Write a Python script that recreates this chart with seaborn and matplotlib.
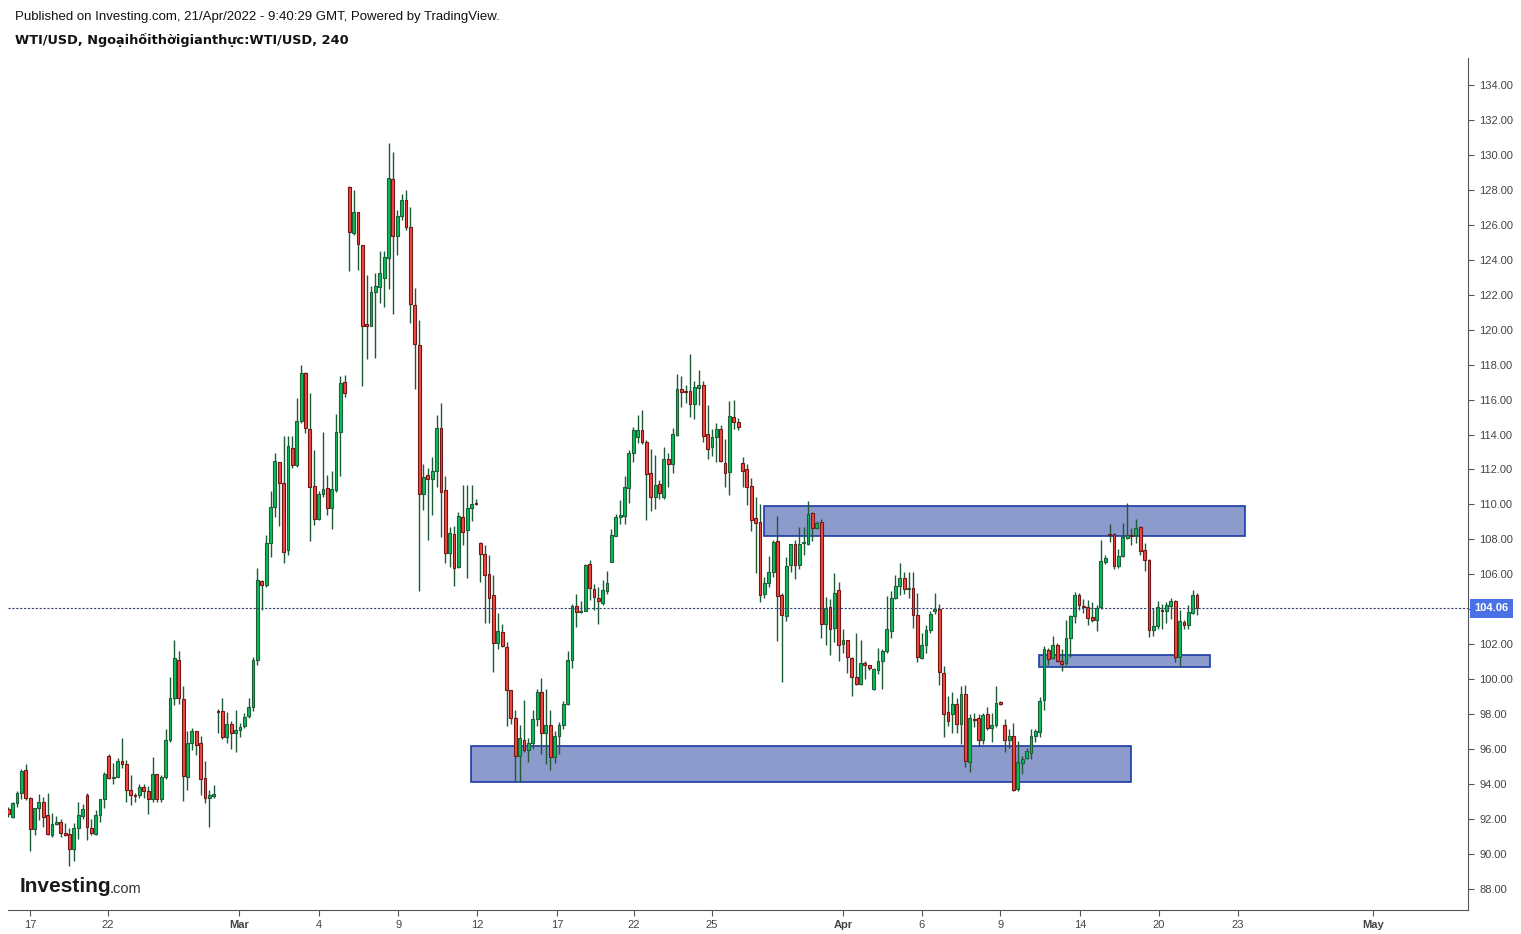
import matplotlib
matplotlib.use("Agg")
import matplotlib.pyplot as plt
import matplotlib.transforms as mtransforms
from matplotlib.patches import Rectangle
import numpy as np
import pandas as pd
import seaborn as sns

# ---------------- data (4-hour WTI/USD candles) ----------------
opens = [92.60, 92.12, 92.92, 93.49, 94.81, 93.20, 91.46, 92.64, 93.00, 92.24,
         91.10, 91.70, 91.83, 91.20, 91.14, 90.31, 91.48, 92.20, 93.38, 91.50,
         91.17, 92.24, 93.14, 95.60, 94.34, 94.40, 95.30, 95.14, 93.65, 93.40,
         93.36, 93.84, 93.60, 93.17, 94.57, 93.15, 94.40, 96.51, 98.91, 101.09,
         98.86, 94.43, 96.34, 97.03, 96.34, 94.34, 93.20, 93.30, 98.20, 98.19,
         96.69, 97.43, 96.92, 97.09, 97.30, 97.88, 98.40, 101.09, 105.60, 105.40,
         107.80, 109.83, 112.41, 111.20, 107.40, 113.22, 112.27, 114.79, 117.52, 114.32,
         111.04, 109.14, 110.57, 110.93, 109.77, 110.83, 114.17, 117.01, 128.14, 125.55,
         126.72, 124.83, 120.30, 120.23, 122.14, 122.46, 122.97, 124.10, 128.60, 125.38,
         126.50, 127.42, 125.89, 121.39, 119.11, 110.58, 111.67, 111.44, 111.90, 114.36,
         110.83, 107.23, 108.30, 106.41, 109.27, 108.54, 109.78, 110.07, 107.80, 107.14,
         106.00, 104.80, 102.06, 102.70, 101.83, 99.37, 97.77, 95.61, 96.51, 95.94,
         96.34, 97.72, 99.27, 96.92, 97.40, 95.54, 96.74, 97.36, 98.57, 101.09,
         104.18, 103.84, 103.92, 106.58, 105.15, 104.63, 104.39, 105.07, 106.73, 108.21,
         109.26, 109.34, 110.96, 112.93, 113.88, 114.27, 113.58, 111.78, 110.45, 111.16,
         110.45, 112.60, 112.31, 113.98, 116.59, 116.50, 116.49, 115.77, 116.65, 116.82,
         114.02, 113.27, 113.88, 114.30, 112.36, 111.88, 114.99, 114.72, 112.36, 112.05,
         111.04, 109.21, 108.98, 104.87, 105.50, 106.12, 107.90, 104.81, 103.61, 106.52,
         107.72, 106.52, 107.78, 107.72, 109.50, 108.64, 108.98, 103.14, 104.12, 102.92,
         105.09, 102.00, 102.23, 101.20, 100.12, 99.71, 100.91, 100.80, 99.43, 100.52,
         101.03, 101.60, 102.75, 104.63, 105.32, 105.78, 105.15, 105.21, 103.67, 101.20,
         101.95, 102.80, 103.90, 104.00, 100.34, 98.11, 98.00, 98.57, 97.43, 99.14,
         95.25, 97.72, 97.77, 96.51, 98.00, 97.20, 97.38, 98.68, 97.37, 96.51,
         96.74, 93.71, 95.20, 95.48, 95.80, 96.74, 96.97, 98.80, 101.66, 101.20,
         101.95, 101.03, 100.91, 102.35, 103.60, 104.81, 104.18, 104.12, 103.55, 103.38,
         104.12, 106.69, 108.30, 108.30, 106.50, 107.04, 108.08, 108.21, 108.25, 108.70,
         107.38, 106.81, 102.80, 103.03, 103.95, 103.90, 104.18, 104.46, 101.26, 103.26,
         103.09, 103.78, 104.81]
highs = [92.70, 92.95, 93.62, 94.87, 95.16, 93.25, 92.64, 93.44, 93.27, 93.50,
         92.33, 92.20, 92.00, 91.80, 91.50, 91.80, 92.97, 92.87, 93.50, 92.00,
         92.50, 93.14, 94.70, 95.70, 95.23, 95.50, 96.64, 95.40, 94.50, 93.50,
         94.00, 94.00, 93.90, 95.56, 94.60, 94.53, 97.16, 100.12, 102.25, 101.62,
         99.62, 97.04, 97.20, 97.05, 96.76, 95.33, 93.67, 93.95, 98.30, 98.91,
         98.10, 97.62, 98.25, 97.50, 98.06, 98.90, 101.26, 106.37, 105.65, 108.26,
         110.77, 112.92, 112.45, 113.94, 113.94, 113.94, 116.10, 117.96, 117.55, 116.37,
         113.12, 110.77, 114.15, 111.68, 111.89, 115.17, 117.37, 117.39, 128.20, 128.00,
         126.75, 124.85, 123.13, 122.52, 123.23, 124.50, 124.50, 130.70, 130.17, 126.85,
         127.77, 128.00, 127.00, 122.41, 120.56, 112.32, 112.10, 112.70, 115.10, 115.80,
         111.63, 108.73, 108.77, 109.57, 111.10, 111.10, 111.10, 110.30, 107.84, 107.68,
         107.11, 105.94, 103.77, 103.15, 102.12, 99.40, 98.25, 97.39, 98.82, 96.64,
         98.25, 99.44, 100.07, 99.44, 98.25, 97.04, 97.55, 98.77, 101.60, 104.31,
         104.86, 104.46, 106.60, 106.83, 105.44, 105.26, 105.69, 106.20, 108.57, 109.46,
         110.26, 111.63, 113.12, 114.45, 115.12, 115.40, 113.70, 113.18, 112.83, 111.39,
         113.27, 112.96, 114.36, 117.47, 117.37, 116.84, 118.61, 117.06, 117.70, 117.06,
         115.70, 114.30, 114.65, 114.53, 113.73, 115.92, 115.99, 114.95, 112.70, 112.32,
         111.50, 110.41, 110.01, 105.84, 107.04, 107.96, 109.33, 104.93, 106.97, 107.75,
         107.96, 108.70, 108.70, 110.18, 109.56, 109.04, 109.16, 104.69, 104.57, 106.06,
         105.55, 102.86, 102.25, 101.26, 102.63, 102.25, 101.03, 100.82, 100.63, 101.77,
         101.72, 104.75, 105.04, 105.95, 106.64, 106.15, 106.14, 106.11, 104.92, 102.63,
         103.09, 103.90, 104.92, 104.29, 100.74, 99.03, 99.26, 98.94, 99.60, 99.66,
         98.00, 98.06, 98.00, 98.06, 98.40, 98.06, 99.60, 98.77, 97.72, 97.14,
         97.49, 96.46, 95.60, 96.06, 97.14, 97.14, 98.97, 101.89, 101.78, 102.46,
         102.06, 101.72, 103.38, 103.67, 104.98, 104.92, 104.58, 104.52, 104.40, 104.23,
         107.96, 107.09, 108.86, 108.35, 107.44, 108.94, 110.10, 108.68, 109.16, 108.76,
         107.79, 106.86, 104.06, 104.46, 104.29, 104.40, 104.63, 104.52, 103.95, 103.38,
         104.23, 105.10, 104.92]
lows = [92.10, 92.05, 92.72, 93.16, 93.10, 90.20, 91.10, 91.97, 91.55, 91.10,
        91.00, 91.65, 91.00, 91.05, 89.34, 89.60, 90.87, 92.00, 90.80, 91.10,
        91.10, 91.86, 92.66, 94.30, 94.00, 94.38, 94.90, 92.95, 92.80, 93.00,
        93.20, 93.20, 92.30, 92.95, 92.95, 93.00, 94.30, 96.40, 98.53, 98.57,
        93.04, 93.67, 95.96, 95.69, 93.38, 92.90, 91.57, 93.23, 96.95, 96.57,
        96.38, 96.03, 95.86, 96.70, 97.20, 97.80, 98.20, 100.84, 103.97, 105.30,
        107.02, 109.30, 108.78, 106.66, 107.10, 112.06, 112.16, 114.68, 114.07, 107.93,
        108.82, 109.10, 110.41, 109.39, 108.60, 110.72, 111.63, 116.12, 123.38, 125.40,
        123.42, 116.80, 118.33, 120.20, 118.40, 121.54, 121.30, 122.31, 120.92, 124.28,
        126.28, 125.70, 120.37, 116.63, 105.03, 109.69, 107.97, 109.40, 111.00, 108.16,
        106.67, 106.44, 105.35, 106.36, 107.69, 105.78, 109.08, 109.99, 105.59, 103.20,
        103.20, 100.43, 101.72, 101.85, 97.32, 97.43, 94.13, 94.13, 95.83, 95.25,
        96.00, 97.30, 95.71, 95.14, 94.80, 95.20, 95.71, 97.14, 98.50, 100.63,
        102.97, 103.80, 103.90, 104.52, 103.95, 103.15, 104.22, 104.88, 106.70, 108.20,
        108.90, 108.90, 110.10, 112.45, 113.54, 113.47, 109.12, 109.65, 109.74, 110.30,
        110.30, 111.00, 111.79, 113.94, 115.60, 115.80, 115.03, 114.91, 115.70, 113.55,
        112.59, 112.76, 112.45, 112.42, 111.02, 110.55, 114.30, 114.28, 111.02, 109.97,
        108.50, 106.10, 104.44, 104.64, 105.26, 105.84, 102.17, 99.86, 103.32, 106.12,
        105.72, 106.29, 107.10, 107.70, 107.90, 108.60, 102.35, 101.94, 101.41, 102.12,
        101.06, 101.52, 100.38, 99.03, 99.65, 99.70, 100.04, 100.52, 99.37, 100.29,
        99.43, 101.49, 102.35, 104.57, 104.84, 104.86, 104.63, 102.92, 100.97, 101.15,
        101.49, 102.63, 103.72, 99.65, 96.72, 97.35, 96.92, 96.92, 96.28, 94.99,
        94.68, 97.26, 96.17, 96.28, 97.10, 96.43, 97.26, 98.54, 95.86, 96.06,
        93.60, 93.59, 94.60, 95.43, 95.43, 96.40, 96.68, 98.23, 100.80, 101.18,
        100.97, 100.46, 100.80, 101.26, 103.21, 103.95, 103.78, 103.09, 103.26, 102.75,
        104.00, 106.58, 107.84, 106.33, 106.38, 106.98, 108.02, 107.70, 107.79, 107.10,
        106.20, 102.40, 102.46, 102.86, 102.86, 103.20, 103.43, 100.97, 100.69, 102.86,
        102.86, 103.72, 103.67]
closes = [92.30, 92.92, 93.49, 94.76, 93.18, 91.46, 92.64, 92.97, 92.14, 91.17,
          91.70, 91.83, 91.20, 91.10, 90.31, 91.48, 92.24, 92.60, 91.52, 91.20,
          92.24, 93.14, 94.57, 94.34, 94.41, 95.33, 95.18, 93.65, 93.36, 93.30,
          93.84, 93.60, 93.17, 94.57, 93.17, 94.40, 96.51, 98.91, 101.20, 98.95,
          94.49, 96.34, 97.03, 96.26, 94.32, 93.20, 93.38, 93.44, 98.12, 96.72,
          97.43, 96.92, 97.09, 97.26, 97.83, 98.40, 101.09, 105.68, 105.40, 107.81,
          109.83, 112.46, 111.25, 107.27, 113.33, 112.23, 114.80, 117.52, 114.37, 111.00,
          109.14, 110.57, 110.87, 109.77, 110.90, 114.15, 116.92, 116.40, 125.60, 126.72,
          124.89, 120.23, 120.23, 122.14, 122.50, 123.23, 124.16, 128.66, 125.38, 126.51,
          127.42, 125.89, 121.45, 119.17, 110.58, 111.59, 111.44, 111.90, 114.36, 110.73,
          107.23, 108.35, 106.36, 109.34, 108.45, 109.78, 110.00, 110.00, 107.14, 105.94,
          104.67, 102.06, 102.75, 101.90, 99.37, 97.77, 95.61, 96.62, 95.94, 96.34,
          97.72, 99.27, 96.92, 97.40, 95.54, 96.74, 97.36, 98.57, 101.09, 104.18,
          103.84, 103.92, 106.54, 105.23, 104.69, 104.46, 105.12, 105.51, 108.28, 109.26,
          109.39, 111.00, 112.93, 114.27, 114.27, 113.60, 111.76, 110.45, 111.10, 110.64,
          112.60, 112.34, 114.02, 116.59, 116.45, 116.45, 115.77, 116.70, 116.82, 113.94,
          113.16, 113.84, 114.30, 112.47, 111.82, 115.06, 114.70, 114.42, 111.94, 111.00,
          109.10, 108.96, 104.81, 105.50, 106.12, 107.84, 104.75, 103.67, 106.47, 107.72,
          106.52, 107.72, 107.84, 109.44, 108.64, 108.93, 103.14, 104.06, 102.86, 104.92,
          101.95, 102.23, 101.26, 100.12, 99.75, 100.91, 100.80, 100.63, 100.57, 101.03,
          101.60, 102.86, 104.63, 105.32, 105.78, 105.15, 105.21, 103.67, 101.26, 101.95,
          102.80, 103.72, 104.00, 100.40, 98.00, 97.60, 98.57, 97.43, 99.14, 95.31,
          97.77, 97.68, 96.51, 97.94, 97.20, 97.38, 98.63, 98.60, 96.51, 96.74,
          93.65, 95.25, 95.43, 95.88, 96.74, 97.03, 98.74, 101.72, 101.15, 101.95,
          101.03, 100.86, 102.35, 103.60, 104.81, 104.23, 104.12, 103.49, 103.38, 104.06,
          106.75, 106.92, 108.27, 106.50, 107.04, 108.13, 108.25, 108.17, 108.64, 107.33,
          106.81, 102.80, 103.03, 104.12, 103.90, 104.23, 104.46, 101.26, 103.32, 103.09,
          103.84, 104.81, 104.06]

# date labels on the bar-index axis (6 four-hour bars per trading day)
tick_labels = ["17", "22", "Mar", "4", "9", "12", "17", "22", "25",
               "Apr", "6", "9", "14", "20", "23", "May"]
tick_bars = [5.0, 22.8, 52.8, 71.1, 89.2, 107.3, 125.5, 143.2, 161.0,
             191.0, 209.0, 227.0, 245.2, 263.3, 281.4, 312.3]

# support / resistance zones: (first bar, last bar, low price, high price)
zone_start = [172.9, 105.9, 235.9]
zone_end = [283.0, 256.9, 275.0]
zone_low = [108.20, 94.13, 100.70]
zone_high = [109.92, 96.19, 101.39]

last_price = 104.06

# ---------------- styling ----------------
sns.set_theme(style="white")
plt.rcParams["font.family"] = ["Liberation Sans", "DejaVu Sans"]

df = pd.DataFrame({"open": opens, "high": highs, "low": lows, "close": closes})
df["bar"] = np.arange(len(df))
df["up"] = df["close"] >= df["open"]

UP_FILL, UP_EDGE = "#0BBD5E", "#1C5E36"
DN_FILL, DN_EDGE = "#F3493F", "#741616"
WICK = "#1D5B36"

fig = plt.figure(figsize=(15.21, 9.34), dpi=100)
ax = fig.add_axes([8 / 1521, 24 / 934, 1460 / 1521, 852 / 934])

# zones (behind candles)
for s, e, lo, hi in zip(zone_start, zone_end, zone_low, zone_high):
    ax.add_patch(Rectangle((s, lo), e - s, hi - lo, facecolor="#8C9ACC",
                           edgecolor="#1C3CA6", linewidth=1.2, zorder=1))

# wicks
ax.vlines(df["bar"], df["low"], df["high"], color=WICK, linewidth=1.0, zorder=2)

# bodies
body_bottom = np.minimum(df["open"], df["close"])
body_height = np.maximum((df["close"] - df["open"]).abs(), 0.06)
ax.bar(df["bar"], body_height, bottom=body_bottom, width=0.64,
       color=np.where(df["up"], UP_FILL, DN_FILL),
       edgecolor=np.where(df["up"], UP_EDGE, DN_EDGE),
       linewidth=0.8, zorder=3)

# last price line
ax.axhline(last_price, color="#34406E", linewidth=0.8, linestyle=(0, (2, 1.5)), zorder=4)

# axes
ax.set_xlim(-0.07, 334.0)
ax.set_ylim(86.8, 135.54)
ax.set_xticks(tick_bars)
ax.set_xticklabels(tick_labels)
for lab in ax.get_xticklabels():
    if lab.get_text() in ("Mar", "Apr", "May"):
        lab.set_fontweight("bold")
yt = np.arange(88, 135, 2)
ax.set_yticks(yt)
# the 104.00 label sits under the last-price badge, so it is not shown
ax.set_yticklabels(["" if v == 104 else f"{v:.2f}" for v in yt])
ax.yaxis.tick_right()
ax.tick_params(axis="y", which="both", right=True, left=False, length=4,
               width=0.8, color="#555555", labelsize=8, labelcolor="#444444", pad=4)
ax.tick_params(axis="x", bottom=True, length=4, width=0.8, color="#555555",
               labelsize=8, labelcolor="#444444", pad=3)
for side in ("top", "left"):
    ax.spines[side].set_visible(False)
for side in ("right", "bottom"):
    ax.spines[side].set_visible(True)
    ax.spines[side].set_color("#555555")
    ax.spines[side].set_linewidth(0.8)
ax.grid(False)
ax.set_xlabel("")
ax.set_ylabel("")

# last price badge
trans = mtransforms.blended_transform_factory(ax.transAxes, ax.transData)
ax.text(1.0045, last_price, f"{last_price:.2f}", transform=trans, ha="left",
        va="center", fontsize=8, fontweight="bold", color="white", zorder=6,
        clip_on=False,
        bbox=dict(boxstyle="square,pad=0.4", facecolor="#4A72E6", edgecolor="none"))

# header texts
fig.text(15 / 1521, 1 - 17 / 934,
         "Published on Investing.com, 21/Apr/2022 - 9:40:29 GMT, Powered by TradingView.",
         fontsize=9.5, color="#111111", va="center", ha="left")
fig.text(15 / 1521, 1 - 40 / 934, "WTI/USD, Ngoạihốithờigianthực:WTI/USD, 240",
         fontsize=9.3, fontweight="bold", color="#111111", va="center", ha="left",
         family=["DejaVu Sans"])

# logo
fig.text(20 / 1521, 1 - 887 / 934, "Investing", fontsize=15, fontweight="bold",
         color="#1a1a1a", va="center", ha="left")
fig.text(110 / 1521, 1 - 889 / 934, ".com", fontsize=10.5, color="#333333",
         va="center", ha="left")

fig.savefig("out.png", dpi=100)
